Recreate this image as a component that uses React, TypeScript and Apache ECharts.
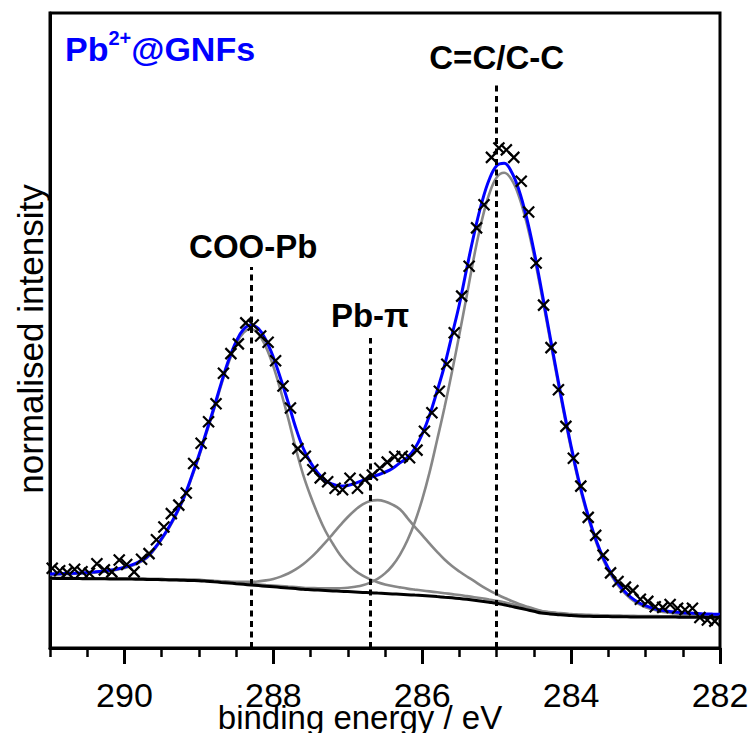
import { useEffect, useRef } from "react";
import * as echarts from "echarts";

// binding energy grid of the fitted curves (eV)
const curveEnergy = [
  291.0, 290.9, 290.8, 290.7, 290.6, 290.5, 290.4, 290.3, 290.2, 290.1,
  290.0, 289.9, 289.8, 289.7, 289.6, 289.5, 289.4, 289.3, 289.2, 289.1,
  289.0, 288.9, 288.8, 288.7, 288.6, 288.5, 288.4, 288.3, 288.2, 288.1,
  288.0, 287.9, 287.8, 287.7, 287.6, 287.5, 287.4, 287.3, 287.2, 287.1,
  287.0, 286.9, 286.8, 286.7, 286.6, 286.5, 286.4, 286.3, 286.2, 286.1,
  286.0, 285.9, 285.8, 285.7, 285.6, 285.5, 285.4, 285.3, 285.2, 285.1,
  285.0, 284.9, 284.8, 284.7, 284.6, 284.5, 284.4, 284.3, 284.2, 284.1,
  284.0, 283.9, 283.8, 283.7, 283.6, 283.5, 283.4, 283.3, 283.2, 283.1,
  283.0, 282.9, 282.8, 282.7, 282.6, 282.5, 282.4, 282.3, 282.2, 282.1,
  282.0,
];

// Shirley-type background
const background = [
  69.7, 69.6, 69.6, 69.5, 69.4, 69.3, 69.3, 69.2, 69.1, 69.1,
  69.0, 68.9, 68.8, 68.6, 68.5, 68.3, 68.1, 67.9, 67.7, 67.5,
  67.3, 66.8, 66.2, 65.6, 65.0, 64.3, 63.7, 63.0, 62.4, 61.8,
  61.2, 60.6, 60.0, 59.4, 58.7, 58.3, 57.9, 57.5, 57.1, 56.7,
  56.4, 56.0, 55.6, 55.3, 54.9, 54.5, 54.1, 53.7, 53.3, 52.9,
  52.5, 52.0, 51.4, 50.8, 50.2, 49.5, 48.7, 47.8, 46.8, 45.8,
  44.7, 43.2, 41.6, 40.0, 38.4, 36.7, 35.0, 34.2, 33.5, 33.0,
  32.4, 32.0, 31.8, 31.6, 31.5, 31.4, 31.3, 31.2, 31.1, 31.0,
  31.0, 31.0, 30.9, 30.9, 30.9, 30.8, 30.8, 30.8, 30.7, 30.7,
  30.7,
];

// component COO-Pb (on background)
const componentCOOPb = [
  73.4, 73.6, 73.9, 74.1, 74.4, 74.8, 75.4, 76.1, 76.9, 78.2,
  79.9, 82.2, 85.5, 89.9, 98.2, 108.4, 120.2, 133.9, 149.7, 169.6,
  191.2, 214.6, 238.0, 262.9, 285.5, 303.6, 315.4, 319.0, 314.1, 301.1,
  281.7, 256.9, 229.6, 199.8, 173.4, 152.0, 133.3, 117.0, 104.2, 92.8,
  84.1, 77.3, 72.3, 68.6, 65.8, 63.6, 61.9, 60.6, 59.4, 58.4,
  57.5, 56.6, 55.7, 54.8, 53.9, 53.0, 51.9, 50.8, 49.7, 48.5,
  47.3, 45.7, 43.9, 42.2, 40.5, 38.7, 36.9, 35.9, 35.2, 34.6,
  33.9, 33.5, 33.2, 32.9, 32.8, 32.6, 32.5, 32.3, 32.2, 32.0,
  32.0, 32.0, 31.8, 31.8, 31.8, 31.7, 31.6, 31.6, 31.5, 31.5,
  31.5,
];

// component Pb-pi (on background)
const componentPbPi = [
  69.9, 69.9, 69.9, 69.8, 69.7, 69.6, 69.6, 69.5, 69.4, 69.4,
  69.4, 69.3, 69.2, 69.1, 69.0, 68.9, 68.7, 68.6, 68.4, 68.3,
  68.1, 67.7, 67.2, 66.8, 66.5, 66.1, 66.1, 66.1, 66.6, 67.6,
  69.1, 71.4, 74.5, 78.6, 83.7, 90.1, 97.5, 105.6, 114.2, 122.8,
  131.0, 138.1, 143.6, 147.0, 147.9, 146.6, 143.4, 138.7, 130.2, 121.1,
  112.9, 104.3, 96.1, 88.5, 82.0, 76.5, 71.5, 66.8, 61.9, 57.6,
  53.8, 50.2, 47.0, 44.1, 41.6, 39.2, 37.0, 35.8, 34.9, 34.2,
  33.5, 32.9, 32.7, 32.4, 32.2, 32.1, 31.9, 31.8, 31.7, 31.5,
  31.5, 31.5, 31.4, 31.3, 31.3, 31.2, 31.2, 31.2, 31.0, 31.0,
  31.0,
];

// component C=C/C-C (on background)
const componentCC = [
  70.0, 69.9, 69.9, 69.9, 69.8, 69.7, 69.7, 69.6, 69.5, 69.5,
  69.5, 69.4, 69.3, 69.1, 69.0, 68.9, 68.7, 68.5, 68.3, 68.2,
  68.0, 67.5, 67.0, 66.4, 65.9, 65.2, 64.7, 64.0, 63.5, 62.9,
  62.4, 61.9, 61.4, 60.9, 60.3, 60.0, 59.8, 59.7, 59.6, 59.8,
  60.3, 61.3, 62.8, 65.4, 69.1, 74.6, 82.4, 93.2, 107.5, 125.8,
  148.6, 176.1, 208.0, 240.8, 276.2, 314.0, 353.1, 392.8, 427.3, 454.0,
  470.6, 475.2, 468.4, 451.5, 425.8, 393.0, 355.1, 315.3, 274.9, 235.8,
  199.2, 166.1, 137.6, 113.5, 93.6, 77.9, 65.5, 56.3, 49.3, 44.3,
  40.8, 38.4, 36.6, 35.5, 34.6, 34.1, 33.7, 33.4, 33.0, 32.8,
  32.7,
];

// overall fit envelope
const fitEnvelope = [
  74.0, 74.2, 74.5, 74.7, 75.1, 75.5, 76.1, 76.8, 77.7, 79.0,
  80.8, 83.1, 86.4, 90.9, 99.2, 109.5, 121.3, 135.1, 151.0, 171.0,
  192.7, 216.2, 239.8, 264.9, 287.9, 306.3, 318.8, 323.1, 319.4, 308.0,
  290.8, 269.0, 245.5, 220.5, 200.0, 185.5, 174.8, 167.3, 163.8, 162.0,
  162.6, 164.7, 167.5, 170.4, 173.0, 175.8, 179.5, 185.1, 190.5, 199.5,
  214.0, 233.0, 257.0, 282.5, 313.0, 344.0, 380.3, 415.0, 445.3, 468.5,
  482.3, 484.7, 476.1, 457.8, 431.1, 397.5, 359.0, 318.6, 278.0, 238.6,
  201.8, 168.5, 139.9, 115.6, 95.6, 79.8, 67.3, 58.0, 50.9, 45.8,
  42.3, 39.8, 38.0, 36.8, 35.9, 35.3, 34.9, 34.6, 34.1, 33.9,
  33.8,
];

// measured spectrum
const dataEnergy = [
  290.97, 290.87, 290.77, 290.67, 290.57, 290.47, 290.37, 290.27, 290.17, 290.07,
  289.97, 289.87, 289.77, 289.67, 289.57, 289.47, 289.37, 289.27, 289.17, 289.07,
  288.97, 288.87, 288.77, 288.67, 288.57, 288.47, 288.37, 288.27, 288.17, 288.07,
  287.97, 287.87, 287.77, 287.67, 287.57, 287.47, 287.37, 287.27, 287.17, 287.07,
  286.97, 286.87, 286.77, 286.67, 286.57, 286.47, 286.37, 286.27, 286.17, 286.07,
  285.97, 285.87, 285.77, 285.67, 285.57, 285.47, 285.37, 285.27, 285.17, 285.07,
  284.97, 284.87, 284.77, 284.67, 284.57, 284.47, 284.37, 284.27, 284.17, 284.07,
  283.97, 283.87, 283.77, 283.67, 283.57, 283.47, 283.37, 283.27, 283.17, 283.07,
  282.97, 282.87, 282.77, 282.67, 282.57, 282.47, 282.37, 282.27, 282.17, 282.07,
];
const measured = [
  79.7, 77.3, 75.6, 78.8, 76.2, 74.7, 84.3, 78.1, 76.1, 88.0,
  83.5, 76.1, 88.8, 94.4, 108.3, 121.0, 134.4, 142.9, 155.0, 184.5,
  204.8, 226.3, 244.3, 274.8, 294.4, 304.1, 325.1, 323.0, 312.0, 305.8,
  287.3, 262.0, 240.0, 199.4, 191.7, 178.3, 170.1, 166.3, 159.7, 158.2,
  169.7, 159.7, 168.4, 173.0, 179.8, 185.9, 191.2, 191.7, 190.2, 197.9,
  216.7, 235.2, 256.7, 283.7, 315.3, 351.9, 381.7, 420.1, 443.3, 490.6,
  500.0, 498.1, 490.6, 466.8, 436.0, 385.0, 342.9, 300.4, 258.2, 221.6,
  189.8, 161.9, 130.6, 112.6, 92.9, 75.1, 66.5, 60.9, 57.4, 48.8,
  46.6, 41.3, 40.6, 43.5, 39.7, 38.2, 39.8, 30.5, 28.0, 26.9,
];

const xTickValues = [282, 284, 286, 288, 290];
const peakPositions = [288.3, 286.7, 285.0];
const peakLineTops = [381, 310, 566];
const peakLabels = ["COO-Pb", "Pb-π", "C=C/C-C"];
const peakLabelAnchors = [
  [288.27, 401.5],
  [286.7, 333],
  [285.0, 590.5],
];

const FONT = "'Liberation Sans', Arial, Helvetica, sans-serif";

function pairs(xs: number[], ys: number[]) {
  return xs.map((x, i) => [x, ys[i]]);
}

export default function App() {
  const ref = useRef<HTMLDivElement>(null);

  useEffect(() => {
    if (!ref.current) return;
    const chart = echarts.init(ref.current, null, { renderer: "svg" });

    const grayLine = (name: string, ys: number[]) => ({
      name,
      type: "line",
      data: pairs(curveEnergy, ys),
      showSymbol: false,
      symbol: "none",
      smooth: 0.4,
      lineStyle: { color: "#878787", width: 2.6 },
      z: 2,
    });

    chart.setOption({
      animation: false,
      backgroundColor: "#ffffff",
      grid: {
        left: 50,
        right: 32,
        top: 13,
        bottom: 85,
        show: true,
        borderColor: "#000",
        borderWidth: 3,
        backgroundColor: "transparent",
      },
      xAxis: [
        {
          type: "value",
          min: 282,
          max: 291,
          interval: 2,
          inverse: true,
          position: "bottom",
          axisLine: { show: true, onZero: false, lineStyle: { color: "#000", width: 3 } },
          axisTick: {
            show: true,
            inside: false,
            length: 16,
            customValues: xTickValues,
            lineStyle: { color: "#000", width: 3 },
          },
          axisLabel: {
            show: true,
            margin: 30,
            fontSize: 34,
            color: "#000",
            fontFamily: FONT,
            customValues: xTickValues,
          },
          splitLine: { show: false },
        },
        {
          type: "value",
          min: 282,
          max: 291,
          interval: 0.5,
          inverse: true,
          position: "bottom",
          axisLine: { show: false },
          axisTick: { show: true, inside: false, length: 9, lineStyle: { color: "#000", width: 2.5 } },
          axisLabel: { show: false },
          splitLine: { show: false },
        },
      ],
      yAxis: {
        type: "value",
        min: 0,
        max: 635,
        axisLine: { show: true, onZero: false, lineStyle: { color: "#000", width: 3 } },
        axisTick: { show: false },
        axisLabel: { show: false },
        splitLine: { show: false },
      },
      graphic: [
        {
          type: "text",
          x: 65,
          y: 48.7,
          style: {
            text: "{a|Pb}{s|2+}{a|@GNFs}",
            align: "left",
            verticalAlign: "middle",
            rich: {
              a: {
                fontSize: 34,
                fontWeight: "bold",
                fontFamily: FONT,
                fill: "#0000ff",
                color: "#0000ff",
                lineHeight: 42,
              },
              s: {
                fontSize: 20,
                fontWeight: "bold",
                fontFamily: FONT,
                fill: "#0000ff",
                color: "#0000ff",
                lineHeight: 18,
                verticalAlign: "top",
              },
            },
          },
        },
        {
          type: "text",
          x: 360,
          y: 717,
          style: {
            text: "binding energy / eV",
            fontSize: 33,
            fontFamily: FONT,
            fill: "#000",
            align: "center",
            verticalAlign: "middle",
          },
        },
        {
          type: "text",
          x: 30,
          y: 339,
          rotation: Math.PI / 2,
          style: {
            text: "normalised intensity",
            fontSize: 35,
            fontFamily: FONT,
            fill: "#000",
            align: "center",
            verticalAlign: "middle",
          },
        },
      ],
      series: [
        grayLine("COO-Pb", componentCOOPb),
        grayLine("Pb-π", componentPbPi),
        grayLine("C=C/C-C", componentCC),
        {
          name: "background",
          type: "line",
          data: pairs(curveEnergy, background),
          showSymbol: false,
          symbol: "none",
          smooth: 0.4,
          lineStyle: { color: "#000", width: 3 },
          z: 3,
          markLine: {
            silent: true,
            symbol: ["none", "none"],
            label: { show: false },
            lineStyle: { color: "#000", width: 3, type: [6, 4.5] },
            data: peakPositions.map((e, i) => [
              { coord: [e, 0] },
              { coord: [e, peakLineTops[i]] },
            ]),
          },
        },
        {
          name: "fit",
          type: "line",
          data: pairs(curveEnergy, fitEnvelope),
          showSymbol: false,
          symbol: "none",
          smooth: 0.4,
          lineStyle: { color: "#0000ff", width: 3 },
          z: 4,
        },
        {
          name: "data",
          type: "scatter",
          data: pairs(dataEnergy, measured),
          symbol: "path://M0,0L10,10M10,0L0,10",
          symbolSize: 11,
          itemStyle: { color: "rgba(0,0,0,0)", borderColor: "#000", borderWidth: 2.2, opacity: 1 },
          z: 5,
        },
        {
          name: "labels",
          type: "scatter",
          data: peakLabelAnchors.map((p, i) => ({ value: p, name: peakLabels[i] })),
          symbolSize: 1,
          itemStyle: { color: "rgba(0,0,0,0)", opacity: 1 },
          label: {
            show: true,
            position: "inside",
            formatter: "{b}",
            fontSize: 33,
            fontWeight: "bold",
            fontFamily: FONT,
            color: "#000",
            opacity: 1,
            textBorderWidth: 0,
            textBorderColor: "transparent",
          },
          z: 6,
        },
      ],
    });

    return () => chart.dispose();
  }, []);

  return (
    <div
      ref={ref}
      style={{ position: "fixed", left: 0, top: 0, width: 752, height: 733, background: "#fff" }}
    />
  );
}
